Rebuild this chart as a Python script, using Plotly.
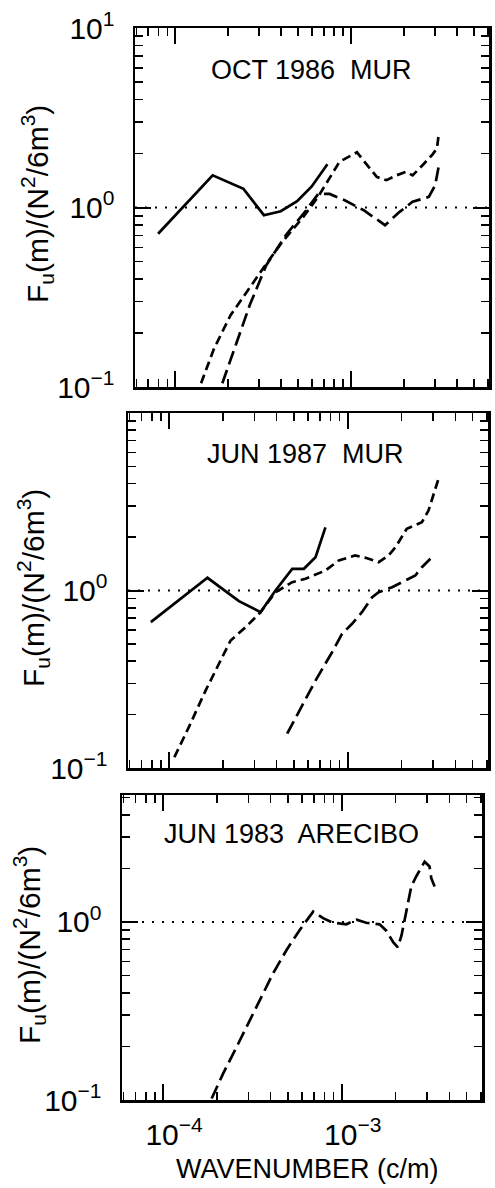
import plotly.graph_objects as go

# ---------------- data ----------------
# Panel 1: OCT 1986 MUR
p1_solid_x = [7.97e-5, 1.63e-4, 2.44e-4, 3.19e-4, 3.98e-4, 4.93e-4, 5.97e-4, 7.33e-4]
p1_solid_y = [0.714, 1.51, 1.27, 0.906, 0.953, 1.084, 1.31, 1.74]
p1_short_x = [1.40e-4, 1.66e-4, 2.06e-4, 2.54e-4, 3.15e-4, 4.06e-4, 5.26e-4, 6.50e-4, 7.5e-4,
              8.6e-4, 1.08e-3, 1.29e-3, 1.40e-3, 1.59e-3, 1.81e-3, 2.06e-3, 2.24e-3, 2.55e-3,
              2.89e-3, 3.08e-3, 3.15e-3]
p1_short_y = [0.105, 0.164, 0.251, 0.339, 0.457, 0.644, 0.869, 1.15, 1.45,
              1.80, 2.03, 1.65, 1.48, 1.42, 1.51, 1.58, 1.51, 1.72,
              1.96, 2.13, 2.53]
p1_long_x = [1.85e-4, 2.24e-4, 2.65e-4, 3.29e-4, 4.25e-4, 5.48e-4, 6.50e-4, 7.55e-4, 9.14e-4,
             1.18e-3, 1.37e-3, 1.56e-3, 1.89e-3, 2.24e-3, 2.77e-3, 3.01e-3, 3.15e-3]
p1_long_y = [0.105, 0.179, 0.286, 0.477, 0.701, 0.95, 1.19, 1.19, 1.10,
             0.966, 0.868, 0.797, 0.946, 1.076, 1.147, 1.33, 1.69]

# Panel 2: JUN 1987 MUR
p2_solid_x = [7.9e-5, 1.64e-4, 2.46e-4, 3.25e-4, 3.94e-4, 4.89e-4, 5.68e-4, 6.60e-4, 7.50e-4]
p2_solid_y = [0.663, 1.179, 0.871, 0.755, 1.0, 1.325, 1.325, 1.54, 2.27]
p2_short_x = [1.07e-4, 1.29e-4, 1.60e-4, 1.99e-4, 2.21e-4, 2.68e-4, 3.25e-4, 3.94e-4, 4.89e-4,
              5.80e-4, 7.50e-4, 8.91e-4, 1.10e-3, 1.26e-3, 1.49e-3, 1.69e-3, 1.85e-3, 2.14e-3,
              2.60e-3, 2.83e-3, 3.02e-3, 3.22e-3]
p2_short_y = [0.115, 0.170, 0.273, 0.421, 0.523, 0.621, 0.755, 0.978, 1.114,
              1.164, 1.296, 1.476, 1.575, 1.528, 1.443, 1.575, 1.753, 2.227,
              2.425, 2.82, 3.51, 4.26]
p2_long_x = [4.58e-4, 5.55e-4, 6.60e-4, 8.17e-4, 9.29e-4, 1.057e-3, 1.20e-3, 1.37e-3, 1.49e-3,
             1.77e-3, 2.10e-3, 2.39e-3, 2.60e-3, 2.90e-3]
p2_long_y = [0.156, 0.225, 0.311, 0.449, 0.570, 0.649, 0.755, 0.917, 0.978,
             1.044, 1.14, 1.215, 1.353, 1.509]

# Panel 3: JUN 1983 ARECIBO
p3_long_x = [1.87e-4, 2.17e-4, 2.53e-4, 2.94e-4, 3.48e-4, 4.13e-4, 4.91e-4, 5.82e-4, 6.92e-4,
             7.86e-4, 8.94e-4, 1.06e-3, 1.21e-3, 1.37e-3, 1.63e-3, 1.78e-3, 1.94e-3, 2.06e-3,
             2.16e-3, 2.30e-3, 2.45e-3, 2.61e-3, 2.91e-3, 3.10e-3, 3.17e-3, 3.31e-3]
p3_long_y = [0.102, 0.141, 0.191, 0.258, 0.365, 0.515, 0.696, 0.902, 1.143,
             1.05, 0.99, 0.97, 1.03, 0.99, 0.97, 0.89, 0.77, 0.72,
             0.84, 1.18, 1.58, 1.80, 2.18, 2.05, 1.76, 1.58]

panel_titles = ["OCT 1986  MUR", "JUN 1987  MUR", "JUN 1983  ARECIBO"]
y_title = "F<sub>u</sub>(m)/(N<sup>2</sup>/6m<sup>3</sup>)"
x_title = "WAVENUMBER (c/m)"
x_tickvals = [1e-4, 1e-3]
x_ticktext = ["10<sup>\u22124</sup>", "10<sup>\u22123</sup>"]
y_tickvals = [0.1, 1, 10]
y_ticktext_full = ["10<sup>\u22121</sup>", "10<sup>0</sup>", "10<sup>1</sup>"]
y_ticktext_nolabel_top = ["10<sup>\u22121</sup>", "10<sup>0</sup>", ""]

# ---------------- styling ----------------
W, H = 495, 1188
FONT = "Liberation Sans, Arial, sans-serif"
SOLID = dict(color="black", width=2.7)
SHORT = dict(color="black", width=2.7, dash="9px,5px")
LONG = dict(color="black", width=2.7, dash="14px,6px")

minor_x = [m * 10.0 ** e for e in (-5, -4, -3) for m in range(2, 10)]
minor_y = [m * 10.0 ** e for e in (-1, 0) for m in range(2, 10)]

# panel pixel boxes (left, right, top, bottom)
boxes = [(135, 489, 28, 387), (128, 488, 413, 768), (122, 482, 795, 1100)]
yranges = [[-1, 1], [-1, 1], [-1, 0.713]]


def xd(l, r):
    return [l / W, r / W]


def yd(t, b):
    return [1 - b / H, 1 - t / H]


fig = go.Figure()

traces = [
    (1, p1_solid_x, p1_solid_y, SOLID),
    (1, p1_short_x, p1_short_y, SHORT),
    (1, p1_long_x, p1_long_y, LONG),
    (2, p2_solid_x, p2_solid_y, SOLID),
    (2, p2_short_x, p2_short_y, SHORT),
    (2, p2_long_x, p2_long_y, LONG),
    (3, p3_long_x, p3_long_y, LONG),
]
for k, xs, ys, ln in traces:
    sfx = "" if k == 1 else str(k)
    fig.add_trace(go.Scatter(x=xs, y=ys, mode="lines", line=ln, showlegend=False,
                             xaxis="x" + sfx, yaxis="y" + sfx, hoverinfo="skip"))

layout = dict(width=W, height=H, margin=dict(l=0, r=0, t=0, b=0, autoexpand=False),
              paper_bgcolor="white", plot_bgcolor="white",
              font=dict(family=FONT, color="black"), showlegend=False)

for i, (l, r, t, b) in enumerate(boxes):
    k = i + 1
    sfx = "" if k == 1 else str(k)
    common = dict(type="log", showline=True, linecolor="black", linewidth=2.5,
                  mirror="allticks", ticks="inside", ticklen=16, tickwidth=2,
                  tickcolor="black", showgrid=False, zeroline=False, automargin=False)
    xa = dict(common, domain=xd(l, r), range=[-4.23, -2.215], anchor="y" + sfx,
              tickvals=x_tickvals, ticktext=x_ticktext,
              showticklabels=(k == 3), tickfont=dict(size=30, family=FONT),
              ticklabelstandoff=6, ticklabelshift=11,
              minor=dict(ticks="inside", ticklen=8, tickwidth=1.6, tickcolor="black",
                         tickvals=minor_x, showgrid=False))
    ya = dict(common, domain=yd(t, b), range=yranges[i], anchor="x" + sfx,
              tickvals=y_tickvals,
              ticktext=y_ticktext_full if k == 1 else y_ticktext_nolabel_top,
              tickfont=dict(size=30, family=FONT), ticklabelstandoff=12,
              minor=dict(ticks="inside", ticklen=8, tickwidth=1.6, tickcolor="black",
                         tickvals=minor_y, showgrid=False))
    layout["xaxis" + sfx] = xa
    layout["yaxis" + sfx] = ya

fig.update_layout(**layout)

# reference line at F = 1 in every panel
for i in range(3):
    sfx = "" if i == 0 else str(i + 1)
    fig.add_shape(type="line", xref="x" + sfx + " domain", yref="y" + sfx,
                  x0=0, x1=1, y0=1, y1=1,
                  line=dict(color="black", width=2, dash="2px,8px"))

# panel titles
title_pos = [(311, 70), (305, 454), (291, 834)]
for (px, py), txt in zip(title_pos, panel_titles):
    fig.add_annotation(text=txt, x=px / W, y=1 - py / H, xref="paper", yref="paper",
                       xanchor="center", yanchor="middle", showarrow=False,
                       font=dict(size=27, family=FONT, color="black"))

# y-axis titles
ytitle_pos = [(37, 204), (33, 588), (29, 945)]
for px, py in ytitle_pos:
    fig.add_annotation(text=y_title, x=px / W, y=1 - py / H, xref="paper", yref="paper",
                       xanchor="center", yanchor="middle", showarrow=False, textangle=-90,
                       font=dict(size=30, family=FONT, color="black"))

# x-axis title
fig.add_annotation(text=x_title, x=307 / W, y=1 - 1169 / H, xref="paper", yref="paper",
                   xanchor="center", yanchor="middle", showarrow=False,
                   font=dict(size=27, family=FONT, color="black"))

fig.write_html(
    "out.html",
    config={"displayModeBar": False, "staticPlot": True},
    post_script="document.body.style.margin='0px';document.body.style.padding='0px';"
                "document.documentElement.style.overflow='hidden';",
)
